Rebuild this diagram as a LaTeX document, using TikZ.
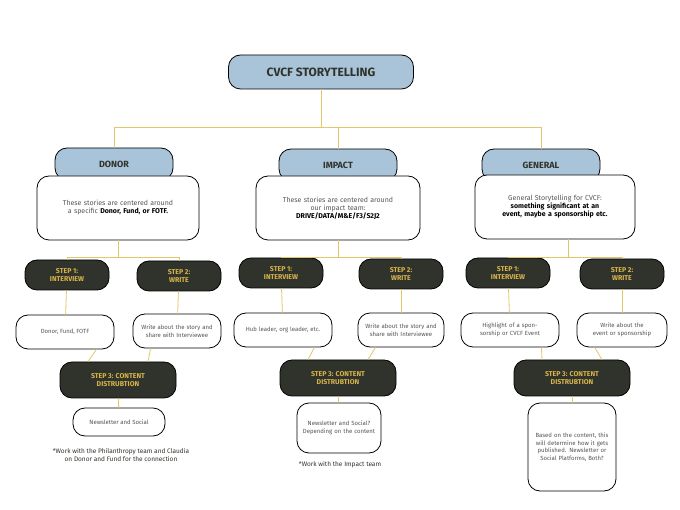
\documentclass[tikz,border=0pt]{standalone}
\usepackage{fontspec}
\setmainfont{Fira Sans}
\usetikzlibrary{positioning}
\definecolor{headblue}{HTML}{A9C4D9}
\definecolor{stepdark}{HTML}{2F332C}
\definecolor{stepgold}{HTML}{D9B44A}
\definecolor{linegold}{HTML}{E2C66A}
\definecolor{textgrey}{HTML}{555555}
\tikzstyle{box} = [draw=black, thick, rounded corners=12pt, align=center, inner sep=2pt]
\tikzstyle{titlebox} = [box, fill=headblue, minimum width=185pt, minimum height=34pt, font=\bfseries\large, text=stepdark]
\tikzstyle{head} = [box, fill=headblue, minimum width=118pt, minimum height=32pt, font=\bfseries\small, text=stepdark]
\tikzstyle{desc} = [box, fill=white, minimum height=64pt, font=\scriptsize, text=textgrey]
\tikzstyle{stage} = [box, fill=stepdark, minimum width=84pt, minimum height=30pt, font=\bfseries\scriptsize, text=stepgold]
\tikzstyle{final} = [stage, minimum width=116pt, minimum height=36pt]
\tikzstyle{info} = [box, fill=white, minimum height=34pt, font=\fontsize{6}{7.5}\selectfont, text=textgrey]
\tikzstyle{note} = [align=center, font=\fontsize{6.5}{8}\selectfont, text=stepdark]
\tikzstyle{path} = [linegold, thick]

\begin{document}
\begin{tikzpicture}[x=1pt, y=-1pt]
    \useasboundingbox (0,0) rectangle (680,510);

    % Title.
    \node (title) [titlebox] at (321,72) {CVCF STORYTELLING};

    % Branch headers.
    \node (donor) [head] at (114,164) {DONOR};
    \node (impact) [head] at (338,165) {IMPACT};
    \node (general) [head] at (541,165) {GENERAL};

    % Descriptions.
    \node (donor-desc) [desc, text width=158pt] at (118,208) {These stories are centered around a specific \textbf{\color{black}Donor, Fund, or FOTF.}\\[10pt]};
    \node (impact-desc) [desc, text width=160pt] at (338,208) {These stories are centered around\\ our impact team:\\ \textbf{\color{black}DRIVE/DATA/M\&E/F3/S2J2}};
    \node (general-desc) [desc, text width=156pt] at (555,207) {General Storytelling for CVCF:\\ \textbf{\color{black}something significant at an event, maybe a sponsorship etc.}};

    % Step nodes.
    \node (donor-step1) [stage] at (67,275) {STEP 1:\\INTERVIEW};
    \node (donor-step2) [stage] at (179,276) {STEP 2:\\WRITE};
    \node (impact-step1) [stage] at (281,273) {STEP 1:\\INTERVIEW};
    \node (impact-step2) [stage] at (401,274) {STEP 2:\\WRITE};
    \node (general-step1) [stage] at (508,273) {STEP 1:\\INTERVIEW};
    \node (general-step2) [stage] at (622,274) {STEP 2:\\WRITE};

    % Step contents.
    \node (donor-info1) [info, minimum width=98pt] at (65,332) {Donor, Fund, FOTF};
    \node (donor-info2) [info, minimum width=88pt, text width=80pt] at (177,331) {Write about the story and share with Interviewee};
    \node (impact-info1) [info, minimum width=98pt, text width=90pt] at (283,330) {Hub leader, org leader, etc.};
    \node (impact-info2) [info, minimum width=86pt, text width=78pt] at (401,330) {Write about the story and share with Interviewee};
    \node (general-info1) [info, minimum width=98pt, text width=90pt] at (510,330) {Highlight of a sponsorship or CVCF Event};
    \node (general-info2) [info, minimum width=90pt, text width=84pt] at (622,330) {Write about the event or sponsorship};

    % Distribution.
    \node (donor-final) [final] at (118,380) {STEP 3: CONTENT\\DISTRUBTION};
    \node (impact-final) [final] at (338,378) {STEP 3: CONTENT\\DISTRUBTION};
    \node (general-final) [final] at (572,378) {STEP 3: CONTENT\\DISTRUBTION};

    \node (donor-out) [info, minimum width=92pt, minimum height=28pt] at (119,422) {Newsletter and Social};
    \node (impact-out) [info, minimum width=84pt, minimum height=50pt, text width=76pt] at (339,428) {Newsletter and Social? Depending on the content};
    \node (general-out) [info, minimum width=88pt, minimum height=88pt, text width=80pt] at (572,447) {Based on the content, this will determine how it gets published. Newsletter or Social Platforms, Both?};

    % Notes.
    \node (donor-note) [note] at (121,455) {*Work with the Philanthropy team and Claudia\\ on Donor and Fund for the connection};
    \node (impact-note) [note] at (340,465) {*Work with the Impact team};

    % Coordinates.
    \coordinate (top-split) at (321,127);
    \coordinate (donor-split) at (118,257);
    \coordinate (impact-split) at (338,257);
    \coordinate (general-split) at (568,257);

    % Paths.
    \draw [path] (title) -- (top-split);
    \draw [path] (donor.north |- top-split) -- (general.north |- top-split);
    \foreach \b in {donor, impact, general} {%
        \draw [path] (\b.north |- top-split) -- (\b);
        \draw [path] (\b-desc.south -| \b-split) -- (\b-split);
        \draw [path] (\b-step1.north |- \b-split) -- (\b-step2.north |- \b-split);
        \draw [path] (\b-step1.north |- \b-split) -- (\b-step1);
        \draw [path] (\b-step2.north |- \b-split) -- (\b-step2);
        \draw [path] (\b-step1) -- (\b-info1);
        \draw [path] (\b-step2) -- (\b-info2);
        \draw [path] ([xshift=-18pt]\b-info1.south east) -- ([xshift=-30pt]\b-final.north);
        \draw [path] ([xshift=18pt]\b-info2.south west) -- ([xshift=30pt]\b-final.north);
        \draw [path] (\b-final) -- (\b-out);
    }
\end{tikzpicture}
\end{document}
